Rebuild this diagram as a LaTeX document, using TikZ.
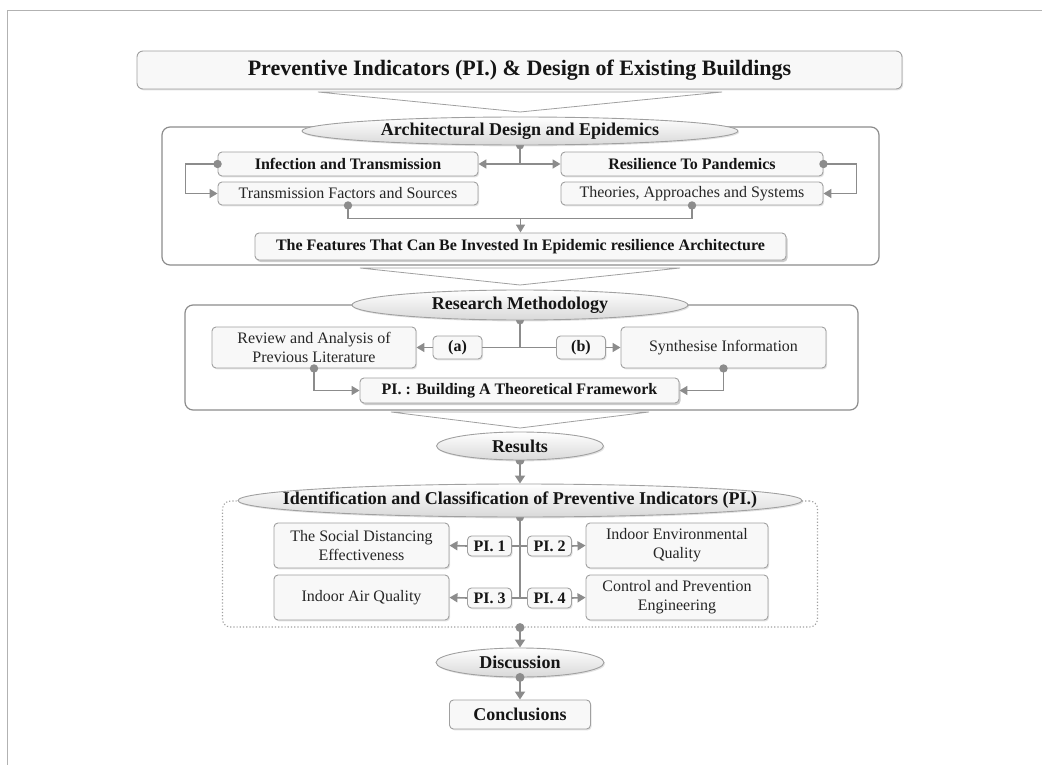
\documentclass[tikz,border=0pt]{standalone}
\usepackage{fontspec}
\setmainfont{Liberation Serif}
\usetikzlibrary{arrows.meta,shapes.geometric,shadows}
\pgfdeclarelayer{bg}
\pgfsetlayers{bg,main}
\definecolor{lineg}{HTML}{8C8C8C}
\definecolor{boxg}{HTML}{A0A0A0}
\definecolor{fillg}{HTML}{F8F8F8}
\definecolor{frameg}{HTML}{B2B2B2}
\definecolor{txt}{HTML}{151515}
\tikzset{
  shad/.style={drop shadow={opacity=0.22,shadow xshift=1.2pt,shadow yshift=-1.4pt}},
  glow/.style={drop shadow={opacity=0.4,shadow xshift=1.5pt,shadow yshift=-2pt}},
  bx/.style={rectangle,rounded corners=4pt,draw=boxg,line width=0.9pt,fill=fillg,inner sep=0pt,align=center,text=txt},
  bbx/.style={bx,shad,font=\bfseries\fontsize{16}{19.3}\selectfont},
  nbx/.style={bx,shad,font=\fontsize{16}{19.3}\selectfont,text=black!85},
  ell/.style={ellipse,draw=boxg,line width=0.9pt,top color=white,bottom color=black!15,inner sep=0pt,text=txt,font=\bfseries\fontsize{18}{21}\selectfont,shad},
  sect/.style={rectangle,rounded corners=8pt,draw=lineg,line width=1.2pt,inner sep=0pt},
  chev/.style={draw=boxg,line width=0.8pt,fill=white,line join=miter},
  conn/.style={draw=lineg,line width=1.6pt},
  arr/.style={conn,-{Triangle[length=8pt,width=9pt]}},
  bigarr/.style={draw=lineg,line width=2.8pt,-{Triangle[length=8pt,width=10pt]}},
  thinl/.style={draw=lineg,line width=1.1pt},
  dot/.style={fill=lineg},
}
\begin{document}
\begin{tikzpicture}[x=1pt,y=-1pt]
\useasboundingbox (0,0) rectangle (1042,765);
% page frame lines
\draw[frameg,line width=1.3pt] (7.5,765) -- (7.5,10.7) -- (1042,10.7);

% section frames
\node[sect,minimum width=717pt,minimum height=138pt] (sec1) at (520.5,196) {};
\node[sect,minimum width=673pt,minimum height=105pt] (sec2) at (521.5,357.5) {};
\node[sect,draw=boxg,dotted,line width=1.1pt,minimum width=595pt,minimum height=126pt] (sec3) at (520,564) {};

% chevrons
\draw[chev] (318,92) -- (722,92) -- (520,112) -- cycle;
\draw[chev] (360,268) -- (680,268) -- (520,285) -- cycle;
\draw[chev] (391,412) -- (649,412) -- (520,428) -- cycle;

% title
\node[bx,shad,rounded corners=6pt,font=\bfseries\fontsize{22}{26}\selectfont,minimum width=765pt,minimum height=38pt] (title) at (519.5,70) {Preventive Indicators (PI.) \& Design of Existing Buildings};

% ellipses
\node[ell,minimum width=436pt,minimum height=28pt] (e1) at (520,131) {Architectural Design and Epidemics};
\node[ell,minimum width=336pt,minimum height=30pt] (e2) at (520,305) {Research Methodology};
\node[ell,minimum width=167pt,minimum height=28pt] (e3) at (520,446) {Results};
\node[ell,minimum width=564pt,minimum height=33pt] (e4) at (520,500.5) {\makebox[0pt]{Identification and Classification of Preventive Indicators (PI.)}};
\node[ell,minimum width=168pt,minimum height=29pt] (e5) at (520,662.5) {Discussion};

% section 1
\node[bbx,minimum width=260pt,minimum height=24pt] (inf) at (348,164) {Infection and Transmission};
\node[bbx,minimum width=262pt,minimum height=24pt] (res) at (692,164) {Resilience To Pandemics};
\node[nbx,minimum width=260pt,minimum height=23pt] (tfs) at (348,193.5) {Transmission Factors and Sources};
\node[nbx,minimum width=262pt,minimum height=23pt] (tas) at (692,193.5) {Theories, Approaches and Systems};
\node[bx,glow,font=\bfseries\fontsize{16}{19.3}\selectfont,minimum width=531pt,minimum height=27pt] (feat) at (520.5,246.5) {The Features That Can Be Invested In Epidemic resilience Architecture};

\coordinate (j1) at (e1.south |- inf.east);
\begin{pgfonlayer}{bg}
\draw[conn] (e1.south) -- (j1);
\fill[dot] (e1.south) circle (4pt);
\end{pgfonlayer}
\draw[arr] (j1) -- (inf.east);
\draw[arr] (j1) -- (res.west);
\draw[arr] (inf.west) -- ++(-32,0) |- (tfs.west);
\fill[dot] (inf.west) circle (4.2pt);
\draw[arr] (res.east) -- ++(33,0) |- (tas.east);
\fill[dot] (res.east) circle (4.2pt);
\draw[conn] (tfs.south) -- ++(0,13) coordinate (j2) -| (tas.south);
\fill[dot] (tfs.south) circle (4.2pt);
\fill[dot] (tas.south) circle (4.2pt);
\draw[arr] (feat.north |- j2) -- (feat.north);

% section 2
\node[nbx,minimum width=204pt,minimum height=41pt] (rev) at (314,347.5) {Review and Analysis of\\Previous Literature};
\node[bbx,minimum width=49pt,minimum height=23pt] (pa) at (457.5,347.5) {(a)};
\node[bbx,minimum width=49pt,minimum height=23pt] (pb) at (581,347.5) {(b)};
\node[nbx,minimum width=205pt,minimum height=41pt] (syn) at (723.5,347.5) {Synthesise Information};
\node[bx,glow,font=\bfseries\fontsize{16}{19.3}\selectfont,minimum width=319pt,minimum height=25pt] (pif) at (519.5,390.5) {PI. : Building A Theoretical Framework};

\coordinate (j3) at (e2.south |- pa.east);
\begin{pgfonlayer}{bg}
\draw[conn] (e2.south) -- (j3);
\fill[dot] (e2.south) circle (4pt);
\end{pgfonlayer}
\draw[conn] (pa.east) -- (pb.west);
\draw[arr] (pa.west) -- (rev.east);
\draw[arr] (pb.east) -- (syn.west);
\draw[arr] (rev.south) |- (pif.west);
\fill[dot] (rev.south) circle (4.2pt);
\draw[arr] (syn.south) |- (pif.east);
\fill[dot] (syn.south) circle (4.2pt);

% results -> identification
\begin{pgfonlayer}{bg}
\fill[dot] (e3.south) circle (4.5pt);
\end{pgfonlayer}
\draw[bigarr] (e3.south) -- (e4.north);

% section 3
\node[nbx,minimum width=175pt,minimum height=45pt] (soc) at (361.5,545.5) {The Social Distancing\\Effectiveness};
\node[bbx,minimum width=44pt,minimum height=20pt] (pi1) at (489.5,546) {PI. 1};
\node[bbx,minimum width=44pt,minimum height=20pt] (pi2) at (549.5,546) {PI. 2};
\node[nbx,minimum width=182pt,minimum height=45pt] (ieq) at (677,545.5) {Indoor Environmental\\Quality};
\node[nbx,minimum width=175pt,minimum height=45pt] (iaq) at (361.5,597.5) {Indoor Air Quality};
\node[bbx,minimum width=44pt,minimum height=20pt] (pi3) at (489.5,598) {PI. 3};
\node[bbx,minimum width=44pt,minimum height=20pt] (pi4) at (549.5,598) {PI. 4};
\node[nbx,minimum width=182pt,minimum height=45pt] (cpe) at (677,597.5) {Control and Prevention\\Engineering};

\coordinate (j4) at (e4.south |- pi3.east);
\begin{pgfonlayer}{bg}
\draw[thinl] (e4.south) -- (j4);
\fill[dot] (e4.south) circle (4pt);
\end{pgfonlayer}
\draw[thinl] (pi1.east) -- (pi2.west);
\draw[thinl] (pi3.east) -- (pi4.west);
\draw[arr] (pi1.west) -- (soc.east);
\draw[arr] (pi2.east) -- (ieq.west);
\draw[arr] (pi3.west) -- (iaq.east);
\draw[arr] (pi4.east) -- (cpe.west);

% bottom
\node[bbx,font=\bfseries\fontsize{18}{21}\selectfont,minimum width=141pt,minimum height=29pt] (conc) at (520,714.5) {Conclusions};
\draw[bigarr] (sec3.south) -- (e5.north);
\fill[dot] (sec3.south) circle (4.5pt);
\draw[bigarr] (e5.south) -- (conc.north);
\fill[dot] (e5.south) circle (4.5pt);
\end{tikzpicture}
\end{document}
